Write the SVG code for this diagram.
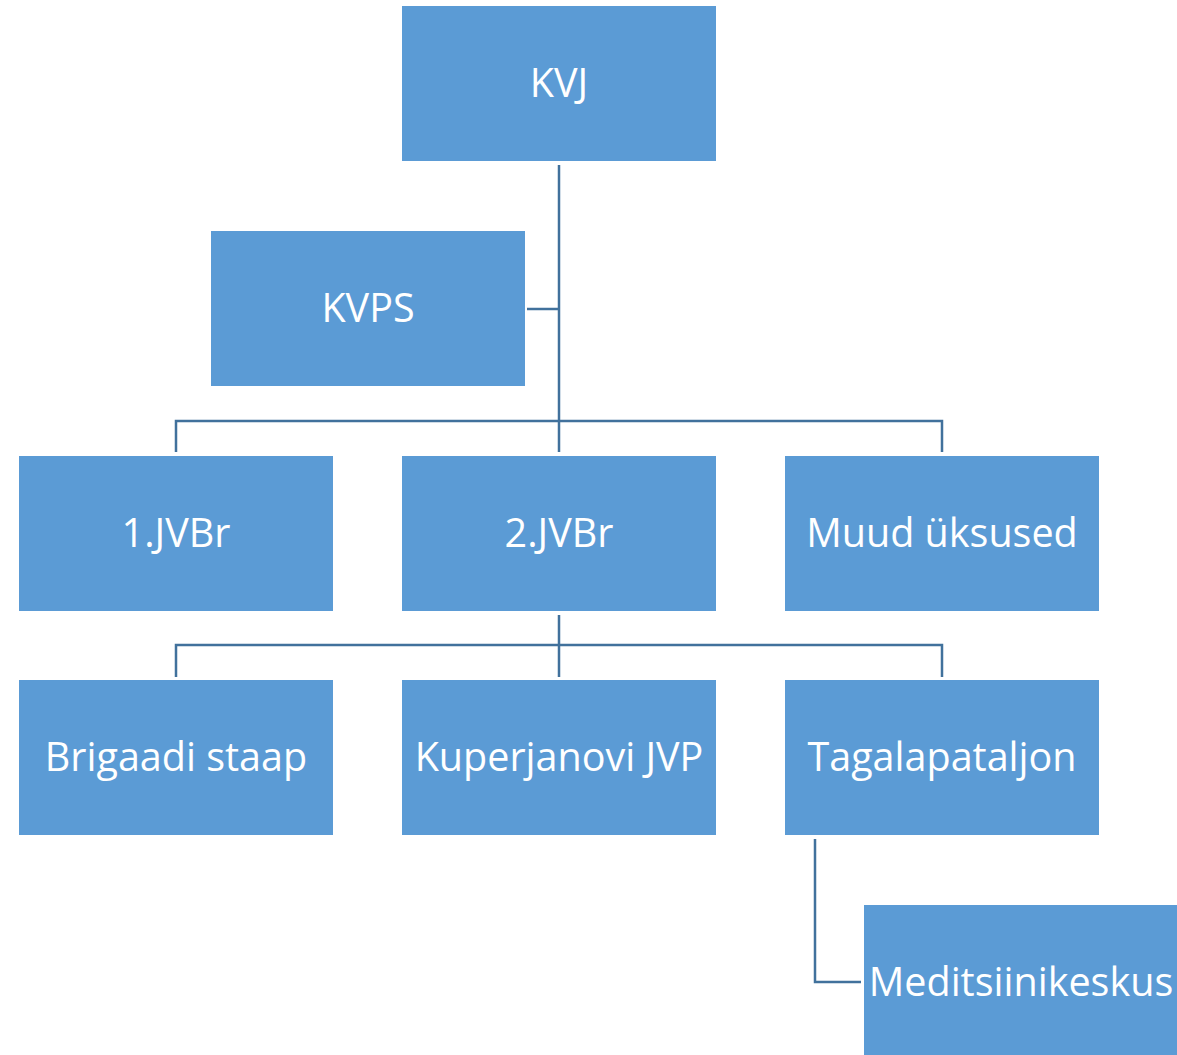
<svg xmlns="http://www.w3.org/2000/svg" width="1177" height="1055" viewBox="0 0 1177 1055">
<style>
.box{fill:#5B9BD5;}
.lbl{fill:#FFFFFF;font-family:"Open Sans","Liberation Sans",sans-serif;font-size:39.5px;text-anchor:middle;}
.con{fill:none;stroke:#41719C;stroke-width:2.5;}
</style>
<rect width="1177" height="1055" fill="#FFFFFF"/>
<g id="connectors">
<path class="con" d="M559,165 V421"/>
<path class="con" d="M527,309 H559"/>
<path class="con" d="M176,452 V421 H942 V452 M559,421 V452"/>
<path class="con" d="M559,615 V645 M176,677 V645 H942 V677 M559,645 V677"/>
<path class="con" d="M815,839 V982 H861"/>
</g>
<g id="kvj"><rect class="box" x="402" y="6" width="314" height="155"/><text class="lbl" x="559" y="97">KVJ</text></g>
<g id="kvps"><rect class="box" x="211" y="231" width="314" height="155"/><text class="lbl" x="368" y="322">KVPS</text></g>
<g id="jvbr1"><rect class="box" x="19" y="456" width="314" height="155"/><text class="lbl" x="176" y="547">1.JVBr</text></g>
<g id="jvbr2"><rect class="box" x="402" y="456" width="314" height="155"/><text class="lbl" x="559" y="547">2.JVBr</text></g>
<g id="muud"><rect class="box" x="785" y="456" width="314" height="155"/><text class="lbl" x="942" y="547">Muud üksused</text></g>
<g id="staap"><rect class="box" x="19" y="680" width="314" height="155"/><text class="lbl" x="176" y="771">Brigaadi staap</text></g>
<g id="kuperjanovi"><rect class="box" x="402" y="680" width="314" height="155"/><text class="lbl" x="559" y="771">Kuperjanovi JVP</text></g>
<g id="tagala"><rect class="box" x="785" y="680" width="314" height="155"/><text class="lbl" x="942" y="771">Tagalapataljon</text></g>
<g id="medits"><rect class="box" x="864" y="905" width="314" height="155"/><text class="lbl" x="1021" y="996">Meditsiinikeskus</text></g>
</svg>
